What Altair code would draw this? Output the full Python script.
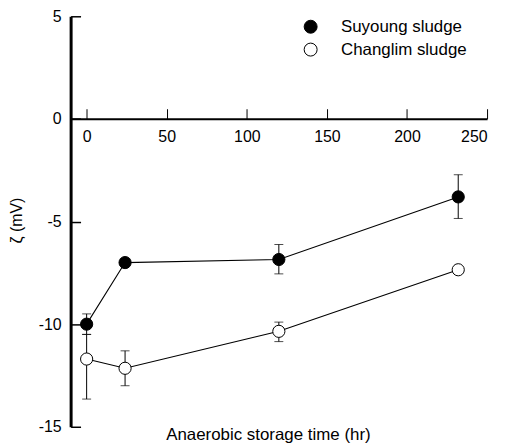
import altair as alt
import pandas as pd

time_hr = [0, 24, 120, 232]
series_names = ["Suyoung sludge", "Changlim sludge"]
suyoung = [-10.0, -7.0, -6.85, -3.8]
suyoung_lo = [-10.5, -7.15, -7.55, -4.85]
suyoung_hi = [-9.5, -6.85, -6.12, -2.72]
changlim = [-11.7, -12.15, -10.35, -7.35]
changlim_lo = [-13.65, -13.0, -10.85, -7.35]
changlim_hi = [-10.5, -11.3, -9.9, -7.35]
x_ticks = [0, 50, 100, 150, 200, 250]
y_ticks = [-15, -10, -5, 0, 5]

rows = []
for name, vals, lo, hi in [
    (series_names[0], suyoung, suyoung_lo, suyoung_hi),
    (series_names[1], changlim, changlim_lo, changlim_hi),
]:
    for t, v, l, h in zip(time_hr, vals, lo, hi):
        rows.append({"series": name, "time": t, "zeta": v, "lo": l, "hi": h})
df = pd.DataFrame(rows)

W, H = 419, 413
FONT = "Liberation Sans"

xs = alt.Scale(domain=[-10, 250], nice=False, zero=False)
ys = alt.Scale(domain=[-15, 5], nice=False, zero=False)

base = alt.Chart(df)

lines = base.mark_line(color="black", strokeWidth=1.1).encode(
    x=alt.X("time:Q", scale=xs, axis=alt.Axis(
        orient="bottom", offset=-310, values=x_ticks, ticks=False, domain=False,
        labelPadding=10, labelFontSize=16, title="Anaerobic storage time (hr)",
        titleX=198.5, titleY=323, titleBaseline="alphabetic", titleAlign="center",
        titleFontSize=17, titleFontWeight="normal")),
    y=alt.Y("zeta:Q", scale=ys, axis=alt.Axis(
        orient="left", values=y_ticks, ticks=True, tickSize={"expr": "-10"},
        tickWidth=1.5, tickColor="black", domain=True, domainWidth=3,
        domainColor="black", labelPadding=19.5, labelFontSize=16,
        labelExpr="replace(datum.label, '\u2212', '-')", title="ζ (mV)",
        titleX=-46, titleY=205, titleAngle=270, titleBaseline="bottom",
        titleAlign="center", titleFontSize=16, titleFontWeight="normal")),
    detail="series:N",
)

rules = base.mark_rule(color="black", strokeWidth=1).encode(
    x=alt.X("time:Q", scale=xs, axis=alt.Axis(
        orient="top", offset=-103, values=x_ticks, labels=False, ticks=True,
        tickSize=10, tickWidth=1, tickColor="black", domain=True, domainWidth=2,
        domainColor="black", title=None)),
    y=alt.Y("lo:Q", scale=ys, axis=None),
    y2="hi:Q",
)

caps_lo = base.mark_tick(orient="horizontal", size=9, thickness=1, color="black").encode(
    x=alt.X("time:Q", scale=xs, axis=None),
    y=alt.Y("lo:Q", scale=ys, axis=None),
)
caps_hi = base.mark_tick(orient="horizontal", size=9, thickness=1, color="black").encode(
    x=alt.X("time:Q", scale=xs, axis=None),
    y=alt.Y("hi:Q", scale=ys, axis=None),
)

points = base.mark_point(filled=True, size=150, strokeWidth=1, opacity=1).encode(
    x=alt.X("time:Q", scale=xs, axis=None),
    y=alt.Y("zeta:Q", scale=ys, axis=None),
    fill=alt.Fill("series:N", scale=alt.Scale(domain=series_names, range=["black", "white"]),
                  legend=alt.Legend(title=None, orient="none", legendX=233, legendY=2,
                                    symbolType="circle", symbolSize=170,
                                    symbolStrokeColor="black", symbolStrokeWidth=1,
                                    symbolFillColor="white",
                                    labelFontSize=17, labelOffset=22, padding=0,
                                    rowPadding=4, labelFont=FONT, labelColor="black")),
    stroke=alt.value("black"),
)

chart = alt.layer(lines, rules, caps_lo, caps_hi, points).resolve_axis(
    x="independent", y="independent"
).properties(
    width=W, height=H,
    padding={"left": 63, "top": 7, "right": 10, "bottom": 18},
    autosize=alt.AutoSizeParams(type="none"),
    background="white",
).configure_view(stroke=None).configure_axis(
    grid=False, labelFont=FONT, titleFont=FONT, labelColor="black", titleColor="black"
)

chart.save("out.html", embed_options={"renderer": "svg", "actions": False})
